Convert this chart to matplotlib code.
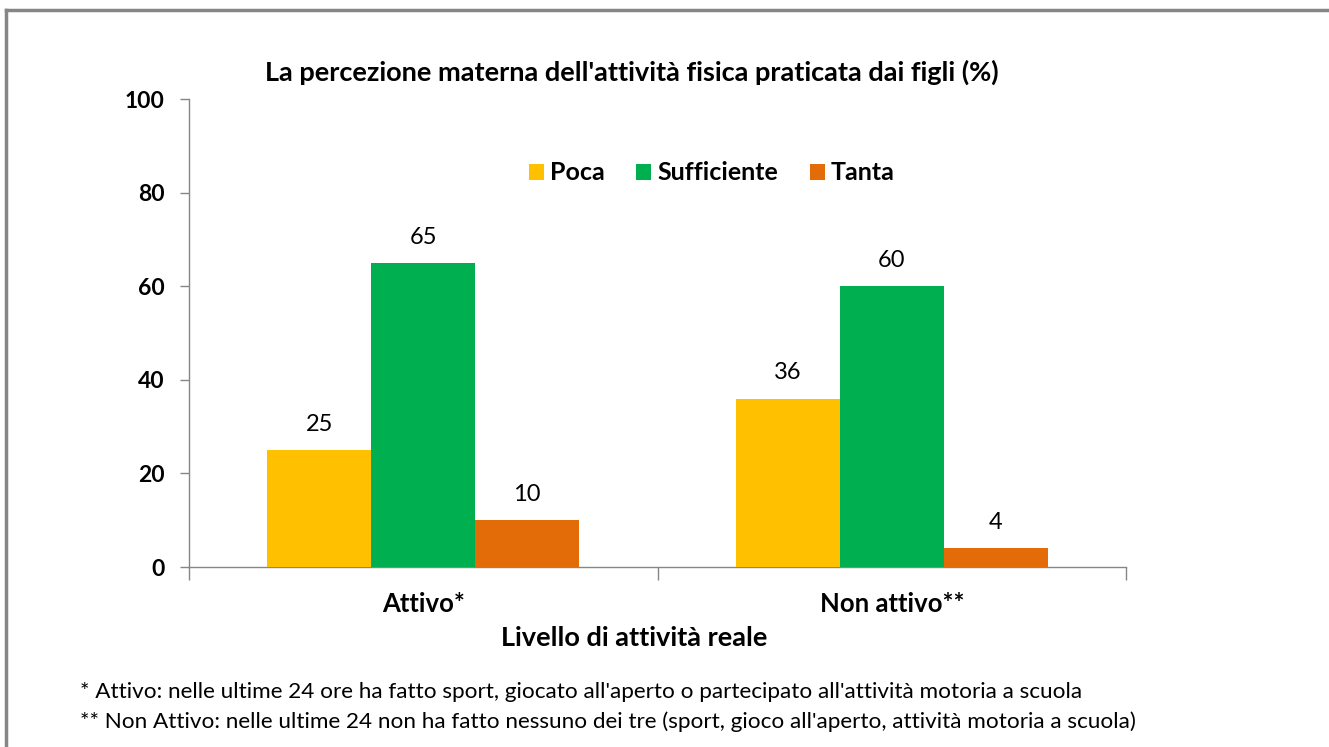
import matplotlib
matplotlib.use('Agg')
import numpy as np
import matplotlib.pyplot as plt
from matplotlib.lines import Line2D

plt.rcParams['font.family'] = ['Lato', 'DejaVu Sans']

categories = ['Attivo*', 'Non attivo**']
series = ['Poca', 'Sufficiente', 'Tanta']
values = {
    'Poca': [25, 36],
    'Sufficiente': [65, 60],
    'Tanta': [10, 4],
}
colors = {'Poca': '#FFC000', 'Sufficiente': '#00B050', 'Tanta': '#E36C09'}
yticks = [0, 20, 40, 60, 80, 100]

title = "La percezione materna dell'attività fisica praticata dai figli (%)"
xlabel = 'Livello di attività reale'
notes = [
    "* Attivo: nelle ultime 24 ore ha fatto sport, giocato all'aperto o partecipato all'attività motoria a scuola",
    "** Non Attivo: nelle ultime 24 non ha fatto nessuno dei tre (sport, gioco all'aperto, attività motoria a scuola)",
]

W, H = 1329, 747
fig = plt.figure(figsize=(W / 100, H / 100), dpi=100)
ax = fig.add_axes([189 / W, 1 - 567 / H, (1126 - 189) / W, (567 - 99) / H])

axis_col = '#868686'
bw = 0.222
x = np.arange(len(categories))
for i, s in enumerate(series):
    pos = x + (i - 1) * bw
    bars = ax.bar(pos, values[s], width=bw, color=colors[s], label=s, zorder=3)
    for b, v in zip(bars, values[s]):
        ax.annotate(str(v), (b.get_x() + b.get_width() / 2, v), xytext=(0, 11),
                    textcoords='offset points', ha='center', va='bottom', fontsize=17)

ax.set_xlim(-0.5, 1.5)
ax.set_ylim(0, 100)
ax.set_yticks(yticks)
ax.set_yticklabels([str(t) for t in yticks], fontsize=16.5, fontweight='bold')
ax.set_xticks(x)
ax.set_xticklabels(categories, fontsize=18.5, fontweight='bold')
ax.set_xticks([-0.5, 0.5, 1.5], minor=True)
ax.tick_params(axis='x', which='major', length=0, pad=18)
ax.tick_params(axis='x', which='minor', length=9, color=axis_col, width=1)
ax.tick_params(axis='y', length=6.5, color=axis_col, width=1, pad=11)
for side in ['top', 'right']:
    ax.spines[side].set_visible(False)
for side in ['left', 'bottom']:
    ax.spines[side].set_color(axis_col)
    ax.spines[side].set_linewidth(1)

ax.legend(loc='center', bbox_to_anchor=(0.558, 0.842), ncol=3, frameon=False,
          prop={'weight': 'bold', 'size': 18}, handlelength=0.6,
          handleheight=0.6, handletextpad=0.25, columnspacing=1.25)

fig.text(632 / W, 1 - 72 / H, title, ha='center', va='center', fontsize=19.5, fontweight='bold')
fig.text(634 / W, 1 - 638 / H, xlabel, ha='center', va='center', fontsize=19.5, fontweight='bold')
fig.text(80 / W, 1 - 692 / H, notes[0], ha='left', va='center', fontsize=16.2)
fig.text(80 / W, 1 - 722 / H, notes[1], ha='left', va='center', fontsize=16.2)

# outer frame (left and top edges only visible)
fig.add_artist(Line2D([6 / W, 6 / W], [0, 1 - 10 / H], transform=fig.transFigure, color='#868686', lw=2.5))
fig.add_artist(Line2D([6 / W, 1], [1 - 10 / H, 1 - 10 / H], transform=fig.transFigure, color='#868686', lw=2.5))

fig.savefig('out.png', dpi=100)
